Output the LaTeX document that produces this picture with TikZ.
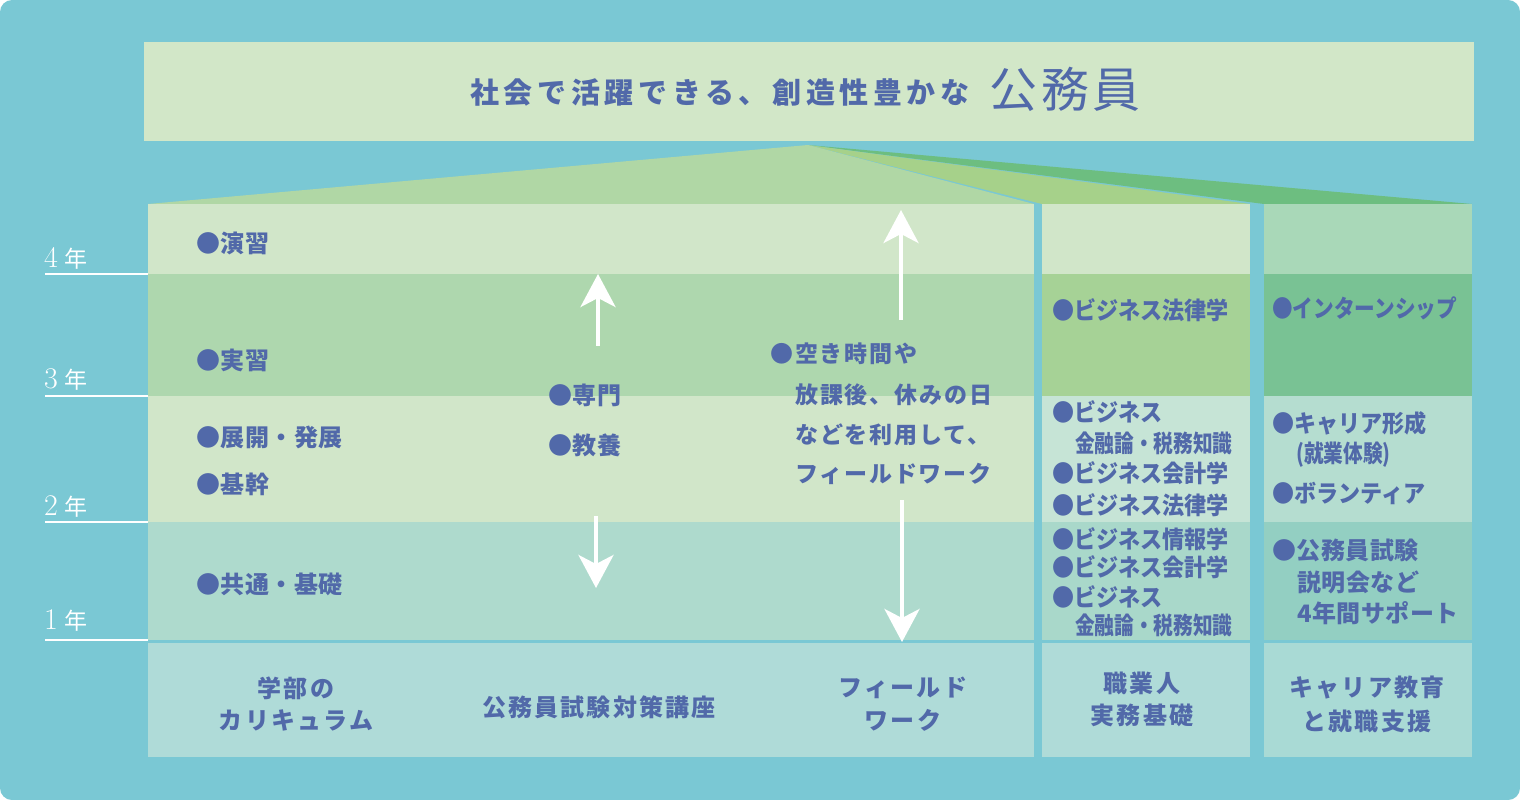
\documentclass[tikz,border=0pt]{standalone}
\usepackage{fontspec}
\usetikzlibrary{arrows.meta}
\newfontfamily\jp{Noto Sans CJK JP}
\newfontfamily\jpc{Noto Sans CJK JP}[FakeStretch=0.92]
\newfontfamily\jpcc{Noto Sans CJK JP}[FakeStretch=0.82]
\newfontfamily\jpci{Noto Sans CJK JP}[FakeStretch=0.86]
\definecolor{bg}{HTML}{7AC8D4}
\definecolor{banner}{HTML}{D2E7C8}
\definecolor{fanA}{HTML}{B0D7A5}
\definecolor{fanB}{HTML}{A6D18A}
\definecolor{fanC}{HTML}{6DBE80}
\definecolor{lt}{HTML}{D1E6C9}
\definecolor{gmid}{HTML}{AED7AE}
\definecolor{rone}{HTML}{AEDACD}
\definecolor{bot}{HTML}{AFDBD8}
\definecolor{ctwoB}{HTML}{A6D296}
\definecolor{ctwoC}{HTML}{C6E4D6}
\definecolor{ctwoD}{HTML}{A9D8CA}
\definecolor{cthrA}{HTML}{A9D8B8}
\definecolor{cthrB}{HTML}{79C294}
\definecolor{cthrC}{HTML}{B5DDD0}
\definecolor{cthrD}{HTML}{93CFC2}
\definecolor{cthrE}{HTML}{A9DAD5}
\definecolor{tcol}{HTML}{5169A9}
\tikzset{
  lbl/.style={text=tcol, inner sep=0pt, anchor=west, font=\jp\bfseries\fontsize{24}{24}\selectfont\addfontfeature{LetterSpace=2}},
  lblw/.style={text=tcol, inner sep=0pt, anchor=west, font=\jp\bfseries\fontsize{23}{23}\selectfont\addfontfeature{LetterSpace=8}},
  lblc/.style={text=tcol, inner sep=0pt, anchor=west, font=\jpc\bfseries\fontsize{24}{24}\selectfont},
  lblcc/.style={text=tcol, inner sep=0pt, anchor=west, font=\jpcc\bfseries\fontsize{24}{24}\selectfont},
  lblci/.style={text=tcol, inner sep=0pt, anchor=west, font=\jpci\bfseries\fontsize{24}{24}\selectfont},
  btm/.style={text=tcol, inner sep=0pt, anchor=center, font=\jp\bfseries\fontsize{24}{24}\selectfont\addfontfeature{LetterSpace=9}},
  yr/.style={text=white, inner sep=0pt, anchor=west, font=\fontsize{30}{30}\selectfont},
  yrline/.style={white, line width=2pt},
  warrow/.style={white, line width=4pt, -{Stealth[length=33pt,width=35pt,inset=9pt]}}
}
\begin{document}
\begin{tikzpicture}[x=1pt,y=-1pt]
\fill[white] (0,0) rectangle (1520,800);
\fill[bg, rounded corners=12pt] (0,0) rectangle (1520,800);
% banner
\fill[banner] (144,42) rectangle (1474,141);
\node[text=tcol, inner sep=0pt, anchor=west, font=\jp\bfseries\fontsize{29}{29}\selectfont\addfontfeature{LetterSpace=16}] (title) at (470,92) {社会で活躍できる、創造性豊かな};
\node[text=tcol, inner sep=0pt, anchor=west, font=\jp\fontsize{48}{48}\selectfont\addfontfeature{LetterSpace=8}] (koumuin) at (989,89) {公務員};
% fan
\fill[fanC] (808,145) -- (1264,204) -- (1472,204) -- cycle;
\fill[fanB] (808,145) -- (1042,204) -- (1250,204) -- cycle;
\fill[fanA] (808,145) -- (148,204) -- (1034,204) -- cycle;
% left block
\fill[lt] (148,204) rectangle (1034,274);
\fill[gmid] (148,274) rectangle (1034,396);
\fill[lt] (148,396) rectangle (1034,522);
\fill[rone] (148,522) rectangle (1034,640);
\fill[bot] (148,643) rectangle (1034,757);
% column 2
\fill[lt] (1042,204) rectangle (1250,274);
\fill[ctwoB] (1042,274) rectangle (1250,396);
\fill[ctwoC] (1042,396) rectangle (1250,522);
\fill[ctwoD] (1042,522) rectangle (1250,640);
\fill[bot] (1042,643) rectangle (1250,757);
% column 3
\fill[cthrA] (1264,204) rectangle (1472,274);
\fill[cthrB] (1264,274) rectangle (1472,396);
\fill[cthrC] (1264,396) rectangle (1472,522);
\fill[cthrD] (1264,522) rectangle (1472,640);
\fill[cthrE] (1264,643) rectangle (1472,757);
% year axis
\draw[yrline] (45,274) -- (148,274);
\draw[yrline] (45,396) -- (148,396);
\draw[yrline] (45,522) -- (148,522);
\draw[yrline] (45,640) -- (148,640);
\node[yr] (y4) at (44,258) {4\kern7pt{\jp\fontsize{23}{23}\selectfont 年}};
\node[yr] (y3) at (44,380) {3\kern7pt{\jp\fontsize{23}{23}\selectfont 年}};
\node[yr] (y2) at (44,506) {2\kern7pt{\jp\fontsize{23}{23}\selectfont 年}};
\node[yr] (y1) at (44,620) {1\kern7pt{\jp\fontsize{23}{23}\selectfont 年}};
% left column texts
\node[lbl] (enshu) at (196,243) {●演習};
\node[lbl] (jisshu) at (196,360) {●実習};
\node[lbl] (tenkai) at (196,437) {●展開・発展};
\node[lbl] (kikan) at (196,484) {●基幹};
\node[lbl] (kyotsu) at (196,584) {●共通・基礎};
\node[lbl] (senmon) at (548,395) {●専門};
\node[lbl] (kyoyo) at (548,445) {●教養};
\node[lblw] (aki1) at (770,354) {●空き時間や};
\node[lblw] (aki2) at (795,395) {放課後、休みの日};
\node[lblw] (aki3) at (795,435) {などを利用して、};
\node[lblw] (aki4) at (795,474) {フィールドワーク};
% arrows
\coordinate (sUpS) at (598,346);
\coordinate (sUpE) at (598,274);
\coordinate (sDnS) at (596,516);
\coordinate (sDnE) at (596,588);
\coordinate (bUpS) at (901,320);
\coordinate (bUpE) at (901,210);
\coordinate (bDnS) at (902,500);
\coordinate (bDnE) at (902,642);
\draw[warrow] (sUpS) -- (sUpE);
\draw[warrow] (sDnS) -- (sDnE);
\draw[warrow] (bUpS) -- (bUpE);
\draw[warrow] (bDnS) -- (bDnE);
% column 2 texts
\node[lblc] (c2a) at (1052,310) {●ビジネス法律学};
\node[lblc] (c2b) at (1052,412) {●ビジネス};
\node[lblcc] (c2c) at (1075,443) {金融論・税務知識};
\node[lblc] (c2d) at (1052,473) {●ビジネス会計学};
\node[lblc] (c2e) at (1052,505) {●ビジネス法律学};
\node[lblc] (c2f) at (1052,539) {●ビジネス情報学};
\node[lblc] (c2g) at (1052,567) {●ビジネス会計学};
\node[lblc] (c2h) at (1052,597) {●ビジネス};
\node[lblcc] (c2i) at (1075,625) {金融論・税務知識};
% column 3 texts
\node[lblci] (c3a) at (1272,308) {●インターンシップ};
\node[lblc] (c3b) at (1272,423) {●キャリア形成};
\node[lblcc] (c3c) at (1296,455) {(就業体験)};
\node[lblc] (c3d) at (1272,493) {●ボランティア};
\node[lbl] (c3e) at (1272,550) {●公務員試験};
\node[lbl] (c3f) at (1297,582) {説明会など};
\node[lbl] (c3g) at (1297,613) {4年間サポート};
% bottom labels
\node[btm] (b1a) at (296,688) {学部の};
\node[btm] (b1b) at (296,720) {カリキュラム};
\node[btm] (b2) at (599,707) {公務員試験対策講座};
\node[btm] (b3a) at (903,688) {フィールド};
\node[btm] (b3b) at (903,720) {ワーク};
\node[btm] (b4a) at (1142,683) {職業人};
\node[btm] (b4b) at (1142,715) {実務基礎};
\node[btm] (b5a) at (1367,688) {キャリア教育};
\node[btm] (b5b) at (1367,721) {と就職支援};
\end{tikzpicture}
\end{document}
